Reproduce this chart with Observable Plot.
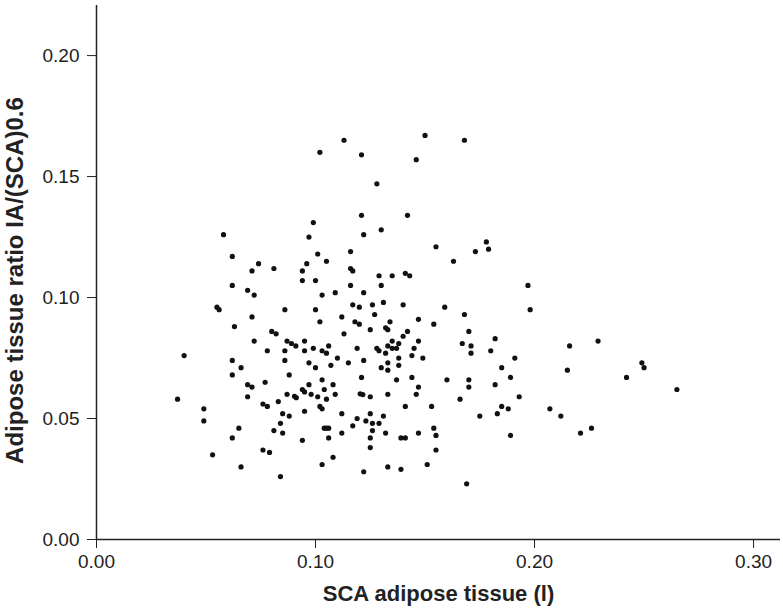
<!DOCTYPE html>
<html><head><meta charset="utf-8">
<script src="https://cdn.jsdelivr.net/npm/d3@7"></script>
<script src="https://cdn.jsdelivr.net/npm/@observablehq/plot@0.6"></script>
<style>body{margin:0;background:#fff}</style>
</head><body><div id="chart"></div>
<script>
// SCA adipose tissue (l)
const sca = [
0.058,
0.113,0.150,0.102,0.121,0.146,0.128,0.121,0.142,0.099,0.122,0.130,0.097,0.116,0.155,
0.168,0.178,0.173,0.179,
0.062,0.074,0.071,0.081,0.094,0.094,0.062,0.069,0.072,0.055,0.056,0.086,0.071,0.063,0.080,0.082,0.072,0.087,0.089,0.091,0.078,0.086,0.040,0.062,0.086,0.066,
0.101,0.096,0.105,0.116,0.117,0.129,0.135,0.141,0.143,0.100,0.116,0.130,0.103,0.109,0.122,0.117,0.120,0.126,0.131,0.140,0.100,0.112,0.127,0.102,0.118,0.120,0.134,0.147,0.154,0.125,0.132,0.133,0.142,0.113,0.140,0.095,0.135,0.147,0.099,0.106,0.138,0.133,0.135,0.137,0.095,0.103,0.105,0.119,0.128,0.129,0.145,0.110,0.132,0.144,0.097,0.100,0.107,0.115,0.122,0.130,0.133,0.138,0.138,0.149,0.133,
0.163,0.197,0.159,0.198,0.168,0.170,0.182,0.167,0.171,0.216,0.171,0.180,0.191,0.185,0.215,
0.229,0.249,0.250,
0.062,0.088,0.069,0.071,0.077,0.037,0.069,0.087,0.0904,0.0912,0.083,0.076,0.078,0.049,0.049,0.085,0.088,0.084,0.065,0.081,0.085,0.062,0.076,0.079,0.053,0.066,0.084,
0.103,0.097,0.108,0.121,0.137,0.144,0.147,0.094,0.095,0.104,0.098,0.101,0.109,0.105,0.1204,0.1216,0.125,0.133,0.146,0.102,0.103,0.141,0.153,0.095,0.112,0.125,0.119,0.131,0.123,0.126,0.129,0.117,0.104,0.105,0.106,0.154,0.126,0.112,0.132,0.147,0.155,0.106,0.125,0.139,0.141,0.094,0.125,0.155,0.108,0.103,0.122,0.133,0.139,0.151,
0.160,0.170,0.170,0.189,0.182,0.166,0.193,0.185,0.188,0.183,0.175,0.207,0.212,0.189,0.169,
0.242,0.265,0.221,0.226
];
// Adipose tissue ratio IA/(SCA)0.6
const ratio = [
0.126,
0.165,0.167,0.160,0.159,0.157,0.147,0.134,0.134,0.131,0.126,0.128,0.125,0.119,0.121,
0.165,0.123,0.119,0.120,
0.117,0.114,0.111,0.112,0.111,0.107,0.105,0.103,0.101,0.096,0.095,0.095,0.092,0.088,0.086,0.085,0.082,0.082,0.081,0.080,0.078,0.078,0.076,0.074,0.074,0.071,
0.118,0.114,0.115,0.112,0.111,0.109,0.109,0.110,0.109,0.107,0.105,0.105,0.101,0.102,0.102,0.097,0.096,0.097,0.098,0.097,0.095,0.092,0.093,0.090,0.090,0.089,0.090,0.091,0.089,0.0867,0.0875,0.0867,0.086,0.085,0.084,0.082,0.082,0.082,0.079,0.080,0.081,0.080,0.079,0.079,0.078,0.078,0.077,0.079,0.079,0.078,0.079,0.075,0.077,0.076,0.073,0.071,0.072,0.073,0.074,0.071,0.073,0.075,0.072,0.075,0.070,
0.115,0.105,0.096,0.095,0.093,0.086,0.083,0.081,0.080,0.080,0.077,0.078,0.075,0.071,0.070,
0.082,0.073,0.071,
0.068,0.068,0.064,0.063,0.065,0.058,0.059,0.060,0.0592,0.0586,0.057,0.056,0.055,0.054,0.049,0.052,0.051,0.048,0.046,0.045,0.044,0.042,0.037,0.036,0.035,0.030,0.026,
0.066,0.064,0.064,0.067,0.066,0.067,0.063,0.062,0.061,0.062,0.060,0.059,0.060,0.058,0.0602,0.0599,0.059,0.060,0.060,0.055,0.054,0.055,0.055,0.053,0.052,0.052,0.050,0.051,0.049,0.048,0.048,0.047,0.046,0.046,0.046,0.046,0.045,0.044,0.044,0.044,0.043,0.042,0.042,0.042,0.042,0.041,0.038,0.037,0.034,0.031,0.028,0.030,0.029,0.031,
0.066,0.066,0.063,0.067,0.064,0.058,0.059,0.055,0.054,0.052,0.051,0.054,0.051,0.043,0.023,
0.067,0.062,0.044,0.046
];
const xTicks = [0, 0.1, 0.2, 0.3];
const yTicks = [0, 0.05, 0.1, 0.15, 0.2];
const xLabel = "SCA adipose tissue (l)";
const yLabel = "Adipose tissue ratio IA/(SCA)0.6";

const data = sca.map((x, i) => ({x, y: ratio[i]}));
const labelFont = {fontWeight: "bold", fill: "#222", textAnchor: "middle"};

const chart = Plot.plot({
  width: 783, height: 614,
  marginLeft: 96, marginRight: 3, marginTop: 5, marginBottom: 75,
  style: {fontFamily: "'Liberation Sans', Arial, sans-serif", fontSize: "19px", color: "#222", background: "#fff"},
  x: {domain: [0, 0.3123], ticks: xTicks, tickFormat: ".2f", tickSize: 9, tickPadding: 6, label: null},
  y: {domain: [0, 0.2207], ticks: yTicks, tickFormat: ".2f", tickSize: 9, tickPadding: 8, label: null},
  marks: [
    Plot.ruleX([0], {stroke: "#222", strokeWidth: 1.5}),
    Plot.ruleY([0], {stroke: "#222", strokeWidth: 1.5}),
    Plot.dot(data, {x: "x", y: "y", r: 2.6, fill: "#111", stroke: "none"}),
    Plot.text([xLabel], {frameAnchor: "bottom", dy: 61, fontSize: 22, ...labelFont}),
    Plot.text([yLabel], {frameAnchor: "left", dx: -81, dy: 8, rotate: -90, fontSize: 24, ...labelFont})
  ]
});
document.getElementById("chart").appendChild(chart);
</script>
</body></html>
